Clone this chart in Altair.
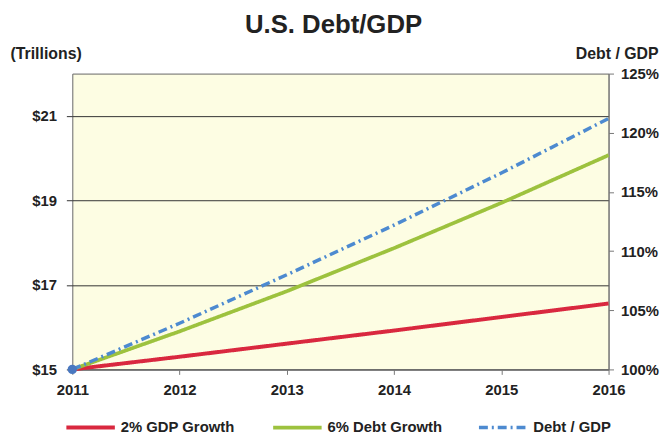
import altair as alt
import pandas as pd

years = [2011, 2012, 2013, 2014, 2015, 2016]
gdp = [15.0, 15.3, 15.61, 15.92, 16.24, 16.56]
debt = [15.0, 15.9, 16.85, 17.87, 18.94, 20.07]
ratio = [100.0, 103.9, 108.0, 112.2, 116.6, 121.2]
series = ["2% GDP Growth", "6% Debt Growth", "Debt / GDP"]
colors = ["#d9283f", "#9dc23e", "#4d8ad0"]
left_ticks = [15, 17, 19, 21]
right_ticks = [100, 105, 110, 115, 120, 125]

left_df = pd.DataFrame({
    "year": years * 2,
    "value": gdp + debt,
    "series": [series[0]] * len(years) + [series[1]] * len(years),
})
right_df = pd.DataFrame({"year": years, "value": ratio, "series": [series[2]] * len(years)})
start_df = right_df.iloc[:1]

FONT = "Liberation Sans"

x_enc = alt.X(
    "year:Q",
    scale=alt.Scale(domain=[2011, 2016], nice=False, zero=False),
    axis=alt.Axis(values=years, format="d", title=None, labelFontSize=15, labelFontWeight="bold",
                  labelColor="#222", labelPadding=8, tickSize=5, tickColor="#777",
                  domainColor="#777", grid=False, labelFlush=False),
)

legend = alt.Legend(
    title=None, orient="none", direction="horizontal", columns=3, legendX=-8, legendY=331,
    symbolType="stroke", symbolSize=2400, symbolStrokeWidth=4, labelFontSize=15,
    labelFontWeight="bold", labelColor="#222", labelFont=FONT, columnPadding=30, labelOffset=4,
)

color_enc = alt.Color("series:N", scale=alt.Scale(domain=series, range=colors), legend=legend)
dash_enc = alt.StrokeDash("series:N", scale=alt.Scale(domain=series, range=[[1, 0], [1, 0], [9, 4, 2, 4]]), legend=legend)
width_enc = alt.StrokeWidth("series:N", scale=alt.Scale(domain=series, range=[4, 3.5, 2.5]), legend=None)

left_lines = alt.Chart(left_df).mark_line().encode(
    x=x_enc,
    y=alt.Y("value:Q", scale=alt.Scale(domain=[15, 22], nice=False, zero=False),
            axis=alt.Axis(orient="left", values=left_ticks, format="$d", title="(Trillions)",
                          titleAngle=0, titleX=-63, titleY=-15, titleAlign="left",
                          titleBaseline="alphabetic", titleFontSize=16, titleFontWeight="bold",
                          titleColor="#222", titleFont=FONT,
                          labelFontSize=15, labelFontWeight="bold", labelColor="#222",
                          labelPadding=10, tickSize=6, tickColor="#333", domain=False,
                          grid=True, gridColor="#333", gridWidth=1)),
    color=color_enc,
    strokeDash=dash_enc,
    strokeWidth=width_enc,
)

right_y_scale = alt.Scale(domain=[100, 125], nice=False, zero=False)
right_line = alt.Chart(right_df).mark_line().encode(
    x=x_enc,
    y=alt.Y("value:Q", scale=right_y_scale,
            axis=alt.Axis(orient="right", values=right_ticks, labelExpr="datum.value + '%'",
                          title="Debt / GDP", titleAngle=0, titleX=50, titleY=-15,
                          titleAlign="right", titleBaseline="alphabetic", titleFontSize=16,
                          titleFontWeight="bold", titleColor="#222", titleFont=FONT,
                          labelFontSize=15, labelFontWeight="bold", labelColor="#222",
                          labelPadding=7, tickSize=5, tickColor="#777", domainColor="#777",
                          grid=False)),
    color=color_enc,
    strokeDash=dash_enc,
    strokeWidth=width_enc,
)

start_point = alt.Chart(start_df).mark_point(filled=True, size=90, opacity=1, color="#4a78c0").encode(
    x=alt.X("year:Q", scale=alt.Scale(domain=[2011, 2016], nice=False, zero=False)),
    y=alt.Y("value:Q", scale=right_y_scale),
)

chart = alt.layer(left_lines, alt.layer(right_line, start_point)).resolve_scale(
    y="independent"
).properties(
    width=542,
    height=299,
    autosize=alt.AutoSizeParams(type="none"),
    padding={"left": 65, "top": 64, "right": 52, "bottom": 66},
    title=alt.Title("U.S. Debt/GDP", fontSize=26, fontWeight="bold", font=FONT, color="#222",
                    anchor="middle", frame="group", offset=8, dx=-7),
).configure(
    font=FONT,
).configure_view(
    fill="#fdfde3", stroke="#666", strokeWidth=1,
).configure_axis(
    labelFont=FONT, titleFont=FONT,
)

chart.save("out.html", embed_options={"renderer": "svg", "actions": False})
